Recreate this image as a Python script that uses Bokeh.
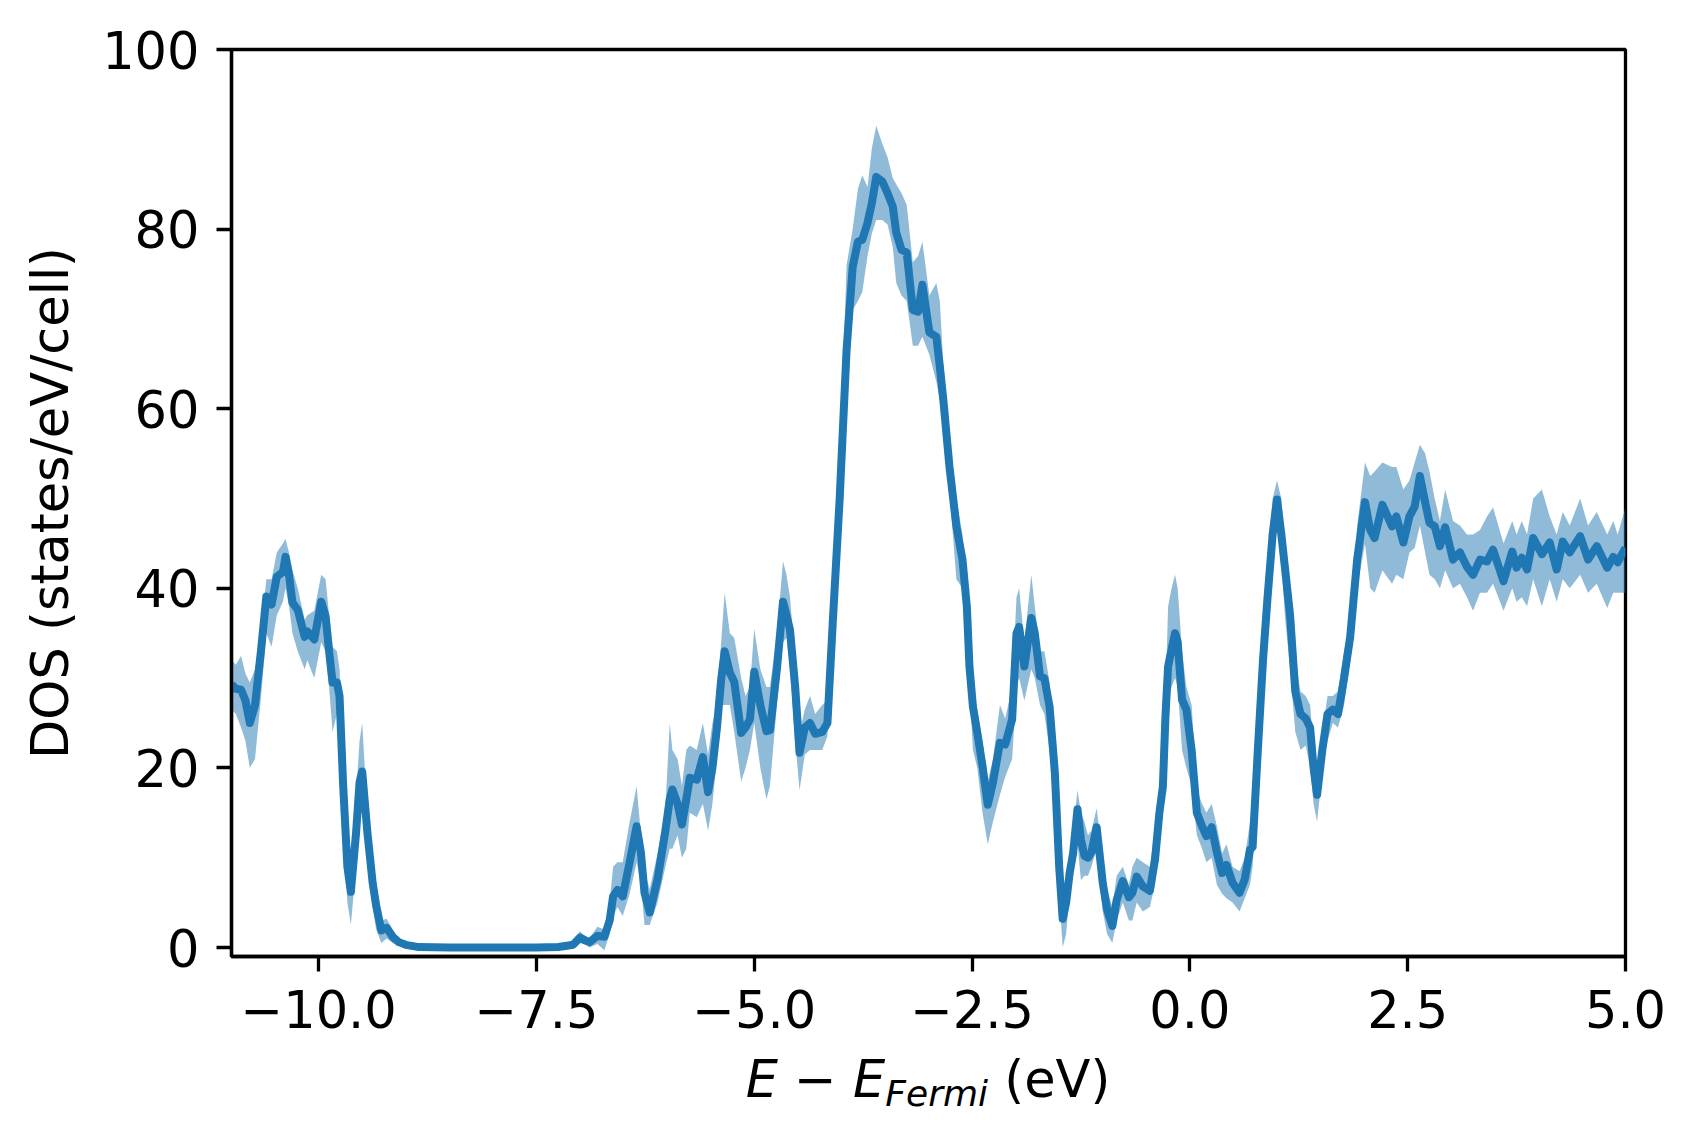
from bokeh.plotting import figure
from bokeh.models import Range1d, FixedTicker, ColumnDataSource, Div
from bokeh.layouts import column
from bokeh.embed import file_html
from bokeh.resources import INLINE

# ---- data ----
energy = [-11.00, -10.95, -10.89, -10.84, -10.79, -10.73, -10.66, -10.60, -10.54, -10.48,
          -10.41, -10.38, -10.34, -10.30, -10.24, -10.16, -10.13, -10.05, -9.97, -9.92,
          -9.88, -9.84, -9.79, -9.76, -9.72, -9.67, -9.63, -9.57, -9.53, -9.50,
          -9.44, -9.38, -9.34, -9.28, -9.22, -9.15, -9.08, -9.00, -8.85, -8.50,
          -8.00, -7.50, -7.25, -7.15, -7.08, -7.00, -6.94, -6.89, -6.80, -6.72,
          -6.66, -6.62, -6.57, -6.51, -6.43, -6.35, -6.30, -6.26, -6.20, -6.11,
          -6.02, -5.97, -5.94, -5.88, -5.83, -5.78, -5.74, -5.66, -5.59, -5.53,
          -5.48, -5.43, -5.38, -5.34, -5.28, -5.23, -5.15, -5.10, -5.05, -5.00,
          -4.93, -4.86, -4.82, -4.74, -4.67, -4.63, -4.59, -4.53, -4.48, -4.42,
          -4.36, -4.30, -4.22, -4.16, -4.10, -4.02, -3.94, -3.87, -3.81, -3.76,
          -3.70, -3.65, -3.60, -3.53, -3.47, -3.41, -3.37, -3.31, -3.25, -3.18,
          -3.12, -3.07, -2.99, -2.91, -2.87, -2.83, -2.76, -2.68, -2.61, -2.56,
          -2.53, -2.49, -2.44, -2.38, -2.32, -2.26, -2.18, -2.12, -2.04, -1.99,
          -1.96, -1.90, -1.82, -1.78, -1.72, -1.67, -1.61, -1.55, -1.50, -1.46,
          -1.42, -1.38, -1.34, -1.29, -1.25, -1.21, -1.17, -1.13, -1.07, -1.00,
          -0.95, -0.89, -0.84, -0.77, -0.70, -0.66, -0.61, -0.54, -0.46, -0.40,
          -0.35, -0.31, -0.28, -0.25, -0.21, -0.17, -0.14, -0.09, -0.04, 0.02,
          0.08, 0.14, 0.19, 0.25, 0.31, 0.37, 0.42, 0.49, 0.57, 0.63,
          0.69, 0.72, 0.78, 0.84, 0.89, 0.95, 1.00, 1.05, 1.09, 1.15,
          1.21, 1.27, 1.33, 1.38, 1.42, 1.46, 1.52, 1.58, 1.64, 1.70,
          1.77, 1.84, 1.92, 2.01, 2.07, 2.12, 2.21, 2.32, 2.37, 2.45,
          2.52, 2.58, 2.64, 2.70, 2.75, 2.81, 2.87, 2.93, 3.02, 3.10,
          3.18, 3.25, 3.33, 3.41, 3.48, 3.60, 3.70, 3.75, 3.81, 3.87,
          3.94, 4.04, 4.13, 4.21, 4.28, 4.36, 4.48, 4.57, 4.67, 4.79,
          4.86, 4.91, 5.00]

dos_mean = [29.3, 28.8, 28.7, 27.5, 25.0, 27.0, 33.2, 39.1, 38.2, 41.3,
            41.8, 43.5, 41.5, 38.4, 37.6, 34.6, 35.2, 34.3, 38.5, 36.9,
            33.0, 29.5, 29.5, 28.0, 18.4, 9.0, 6.2, 12.8, 18.4, 19.6,
            12.8, 7.2, 4.7, 1.9, 2.2, 1.2, 0.6, 0.3, 0.05, 0.0,
            0.0, 0.0, 0.05, 0.2, 0.3, 1.1, 0.8, 0.6, 1.3, 1.2,
            3.0, 5.7, 6.4, 5.7, 9.5, 13.5, 10.5, 6.1, 3.9, 7.6,
            13.0, 16.5, 17.6, 16.0, 13.7, 16.5, 18.9, 18.7, 21.2, 17.3,
            20.0, 24.3, 29.8, 33.0, 30.6, 29.6, 23.9, 24.5, 25.4, 30.7,
            27.0, 24.1, 24.2, 31.0, 38.5, 37.0, 35.4, 29.0, 21.7, 24.5,
            25.0, 23.8, 24.0, 25.0, 36.0, 49.9, 66.6, 75.8, 78.6, 78.8,
            80.7, 82.9, 85.8, 85.3, 84.0, 82.5, 79.6, 77.7, 77.4, 71.0,
            70.8, 73.8, 68.5, 68.0, 64.7, 61.0, 53.6, 46.9, 43.2, 38.0,
            31.3, 26.8, 23.9, 20.2, 15.9, 18.4, 22.8, 22.6, 25.4, 35.0,
            35.7, 31.3, 36.7, 35.0, 30.2, 30.0, 26.8, 19.5, 9.0, 3.2,
            5.0, 8.3, 10.5, 15.4, 12.0, 10.2, 10.0, 10.6, 13.4, 7.2,
            4.2, 2.4, 5.3, 7.4, 5.6, 6.1, 7.9, 6.8, 6.3, 9.8,
            15.0, 17.9, 25.8, 31.3, 33.2, 35.0, 34.0, 27.6, 26.5, 22.0,
            15.0, 13.5, 12.4, 13.4, 10.6, 8.3, 9.2, 7.2, 6.1, 7.6,
            10.9, 11.2, 22.0, 32.1, 38.8, 46.0, 49.9, 46.0, 42.4, 37.0,
            28.5, 26.0, 25.5, 24.5, 20.0, 17.0, 22.0, 26.0, 26.5, 26.0,
            30.0, 34.6, 43.2, 49.6, 46.5, 45.6, 49.3, 46.9, 48.0, 45.1,
            48.0, 49.1, 52.5, 49.6, 47.3, 46.9, 44.7, 46.8, 43.2, 44.0,
            42.4, 41.5, 43.2, 43.0, 44.3, 40.8, 44.1, 42.3, 43.4, 42.1,
            45.6, 43.8, 45.1, 42.1, 45.2, 44.0, 45.8, 43.2, 44.7, 42.3,
            43.5, 42.9, 44.5]

dos_low = [26.5, 26.0, 24.5, 23.0, 20.0, 21.0, 28.0, 35.0, 33.5, 37.0,
           38.5, 40.0, 38.0, 35.0, 33.0, 31.0, 32.0, 30.0, 34.0, 33.0,
           29.0, 24.0, 26.0, 23.0, 15.0, 5.0, 2.5, 9.0, 15.0, 16.0,
           10.0, 4.5, 2.0, 0.5, 1.0, 0.5, 0.3, 0.1, 0.0, 0.0,
           0.0, 0.0, 0.0, 0.0, 0.0, 0.5, 0.3, 0.0, 0.4, -0.3,
           1.5, 3.5, 4.5, 3.5, 6.0, 9.5, 7.0, 2.5, 2.5, 5.0,
           9.0, 11.0, 11.0, 12.5, 10.0, 11.0, 15.0, 14.5, 16.0, 13.0,
           16.0, 21.0, 27.0, 27.0, 27.0, 24.0, 18.5, 20.0, 22.0, 25.0,
           20.0, 16.5, 18.0, 27.0, 34.0, 34.5, 31.0, 23.0, 17.5, 21.5,
           22.0, 22.0, 22.0, 23.5, 33.0, 46.0, 60.0, 71.0, 72.0, 73.0,
           77.0, 79.5, 81.0, 81.0, 80.5, 78.0, 74.0, 72.6, 72.0, 67.0,
           67.0, 68.0, 66.0, 63.0, 61.0, 58.0, 51.0, 41.0, 40.0, 37.0,
           29.0, 22.0, 20.0, 15.0, 11.5, 14.0, 17.0, 19.0, 21.0, 29.0,
           30.0, 27.5, 31.0, 30.0, 27.0, 26.0, 22.0, 16.0, 6.0, 0.0,
           1.5, 6.0, 8.0, 11.5, 7.5, 8.0, 8.0, 9.0, 11.0, 4.0,
           1.5, 0.5, 3.0, 5.0, 3.0, 3.0, 5.0, 4.0, 4.5, 7.0,
           12.0, 15.0, 22.0, 28.0, 29.0, 30.0, 29.0, 22.0, 20.0, 18.0,
           12.5, 11.0, 9.5, 10.0, 7.0, 6.0, 5.5, 5.0, 4.0, 5.5,
           7.0, 9.0, 18.0, 28.0, 35.0, 43.0, 47.0, 43.0, 37.0, 31.0,
           24.0, 22.0, 22.5, 20.0, 16.0, 14.0, 19.5, 23.0, 25.0, 24.5,
           27.0, 32.0, 40.0, 45.0, 40.0, 39.5, 42.0, 40.5, 41.5, 41.0,
           44.0, 44.5, 47.0, 44.0, 41.5, 41.0, 40.0, 42.0, 40.0, 40.5,
           39.0, 37.5, 39.5, 39.5, 40.5, 37.5, 40.0, 38.5, 39.0, 38.0,
           41.0, 38.0, 41.0, 38.5, 41.0, 40.0, 41.5, 39.5, 40.5, 37.8,
           39.5, 39.5, 39.5]

dos_high = [32.0, 31.5, 32.5, 30.5, 29.5, 31.0, 35.0, 41.0, 41.0, 44.0,
            45.0, 45.5, 44.0, 42.0, 40.0, 36.5, 37.0, 37.5, 41.5, 41.0,
            37.0, 33.5, 33.0, 31.0, 21.0, 12.0, 8.0, 17.0, 23.0, 25.0,
            15.0, 9.0, 6.0, 3.0, 3.2, 2.0, 1.0, 0.5, 0.1, 0.0,
            0.0, 0.0, 0.2, 0.4, 0.8, 1.8, 1.2, 1.1, 2.3, 2.0,
            5.0, 9.0, 9.5, 9.5, 14.0, 18.0, 12.5, 8.5, 6.5, 10.5,
            15.5, 25.0, 22.0, 21.0, 18.0, 22.0, 22.5, 22.0, 25.0, 21.5,
            25.0, 27.0, 34.0, 39.5, 35.0, 34.5, 30.0, 28.0, 29.0, 35.5,
            31.0, 29.0, 29.0, 35.0, 43.0, 41.5, 39.0, 32.0, 24.0, 26.5,
            28.0, 26.0, 27.0, 27.5, 40.0, 54.0, 76.0, 80.0, 84.5, 86.0,
            84.7, 89.0, 91.5, 89.5, 88.0, 85.7, 85.0, 84.0, 82.7, 76.3,
            77.0, 78.6, 72.6, 74.0, 72.0, 65.0, 57.0, 50.0, 46.0, 40.0,
            33.0, 29.0, 26.5, 23.0, 18.5, 21.0, 27.0, 25.5, 29.0, 39.0,
            40.0, 34.0, 41.5, 38.0, 33.0, 33.0, 29.5, 22.0, 11.0, 5.0,
            7.0, 10.5, 13.0, 17.5, 15.0, 14.0, 12.5, 13.0, 15.5, 10.0,
            6.5, 4.5, 8.0, 9.0, 7.0, 9.0, 10.0, 9.5, 9.0, 13.0,
            17.0, 20.5, 28.0, 38.0, 40.0, 41.5, 40.0, 33.0, 29.0, 27.0,
            17.5, 16.0, 15.0, 16.0, 13.5, 10.5, 11.5, 9.0, 8.5, 10.0,
            14.0, 16.0, 26.0, 37.0, 43.0, 50.0, 52.0, 50.0, 44.5, 40.5,
            32.0, 28.5, 28.0, 27.0, 22.0, 19.5, 24.0, 28.0, 28.0, 28.5,
            33.0, 36.0, 47.0, 54.0, 52.5, 53.0, 54.0, 53.5, 53.5, 51.0,
            52.0, 54.0, 56.0, 55.0, 53.0, 50.0, 47.5, 51.0, 47.5, 47.0,
            46.0, 46.0, 46.5, 48.0, 49.0, 45.0, 47.5, 46.0, 47.5, 46.0,
            50.0, 51.0, 48.0, 46.0, 48.5, 47.0, 50.0, 47.0, 48.5, 46.0,
            47.5, 46.0, 49.0]

x_ticks = [-10.0, -7.5, -5.0, -2.5, 0.0, 2.5, 5.0]
x_tick_labels = ["\u221210.0", "\u22127.5", "\u22125.0", "\u22122.5", "0.0", "2.5", "5.0"]
y_ticks = [0, 20, 40, 60, 80, 100]
y_tick_labels = ["0", "20", "40", "60", "80", "100"]

FONT = "DejaVu Sans"
FS = "51px"
BLUE = "#1f77b4"

BORDER_LEFT = 231
FRAME_W = 1394

src = ColumnDataSource(dict(e=energy, m=dos_mean, lo=dos_low, hi=dos_high))

p = figure(frame_width=FRAME_W, frame_height=907,
           min_border_left=BORDER_LEFT, min_border_top=49,
           min_border_right=50, min_border_bottom=95,
           x_range=Range1d(-11, 5), y_range=Range1d(-1, 100),
           output_backend="svg", toolbar_location=None,
           background_fill_color="white", border_fill_color="white")

p.varea(x="e", y1="lo", y2="hi", source=src, fill_color=BLUE, fill_alpha=0.5)
p.line(x="e", y="m", source=src, line_color=BLUE, line_width=8, line_join="round")

p.grid.visible = False
p.outline_line_color = "black"
p.outline_line_width = 3.3

for ax in (p.xaxis[0], p.yaxis[0]):
    ax.axis_line_color = "black"
    ax.axis_line_width = 3.3
    ax.major_tick_line_color = "black"
    ax.major_tick_line_width = 3.3
    ax.major_tick_in = 0
    ax.major_tick_out = 15
    ax.minor_tick_in = 0
    ax.minor_tick_out = 0
    ax.minor_tick_line_color = None
    ax.major_label_text_font = FONT
    ax.major_label_text_font_size = FS
    ax.major_label_text_color = "black"

p.xaxis.ticker = FixedTicker(ticks=x_ticks)
p.xaxis.major_label_overrides = {t: s for t, s in zip(x_ticks, x_tick_labels)}
p.xaxis.major_label_standoff = 18

p.yaxis.ticker = FixedTicker(ticks=y_ticks)
p.yaxis.major_label_overrides = {t: s for t, s in zip(y_ticks, y_tick_labels)}
p.yaxis.major_label_standoff = 17
p.yaxis.axis_label = "DOS (states/eV/cell)"
p.yaxis.axis_label_text_font = FONT
p.yaxis.axis_label_text_font_size = FS
p.yaxis.axis_label_text_font_style = "normal"
p.yaxis.axis_label_text_color = "black"
p.yaxis.axis_label_standoff = 19

# x-axis label: E − E_Fermi (eV), as real HTML text centred under the frame
xlabel_html = ('<i>E</i> \u2212 <i>E</i>'
               '<span style="font-size:36px;font-style:italic;position:relative;top:9px;">Fermi</span>'
               ' (eV)')
xlabel = Div(text=xlabel_html, width=FRAME_W, height=70,
             margin=(3, 0, 0, BORDER_LEFT),
             styles={"font-family": FONT, "font-size": FS, "line-height": "51px",
                     "text-align": "center", "color": "black", "white-space": "nowrap"})

layout = column(p, xlabel, spacing=0)

open("out.html", "w").write(file_html(layout, INLINE))
